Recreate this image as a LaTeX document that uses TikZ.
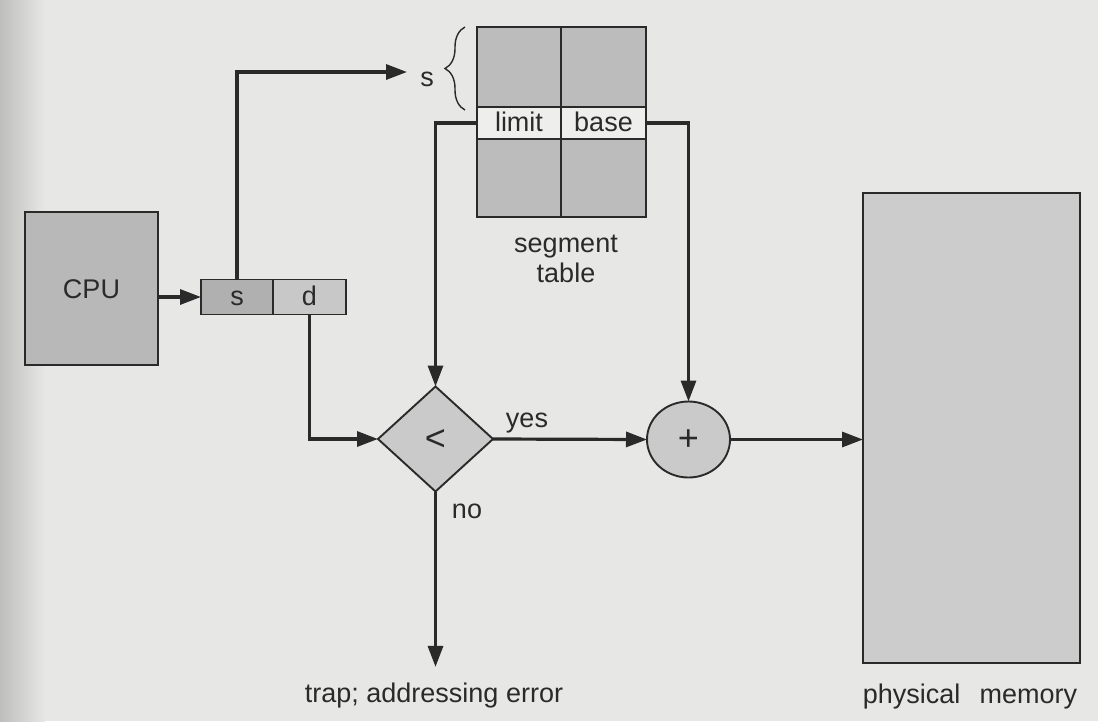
\documentclass[tikz,border=0pt]{standalone}
\usepackage{fontspec}
\setmainfont{Liberation Sans}
\usetikzlibrary{arrows.meta,shapes.geometric,decorations.pathreplacing}
\definecolor{paper}{RGB}{231,231,229}
\definecolor{paperedge}{RGB}{190,190,188}
\definecolor{ink}{RGB}{42,42,42}
\definecolor{cpufill}{RGB}{184,184,184}
\definecolor{sfill}{RGB}{176,176,176}
\definecolor{dfill}{RGB}{200,200,200}
\definecolor{tabfill}{RGB}{188,188,188}
\definecolor{rowfill}{RGB}{238,238,236}
\definecolor{opfill}{RGB}{202,202,202}
\definecolor{memfill}{RGB}{204,204,204}
\begin{document}
\begin{tikzpicture}[x=1pt,y=-1pt,
  lbl/.style={font=\fontsize{27}{30}\selectfont, text=ink},
  cell/.style={lbl, draw=ink, line width=1.9pt, inner sep=0pt, outer sep=0pt,
    text height=20pt, text depth=4pt},
  opnode/.style={cell, fill=opfill, font=\fontsize{36}{36}\selectfont,
    text height=24pt, text depth=2pt},
  conn/.style={draw=ink, line width=3.2pt, line join=miter,
    -{Triangle[length=21pt,width=15pt]}}]
\useasboundingbox (0,0) rectangle (1098,721);
% paper background with a darker binding edge
\fill[paper] (0,0) rectangle (1098,721);
\shade[left color=paperedge, right color=paper] (0,0) rectangle (45,721);

% CPU and logical address
\node[cell, fill=cpufill, minimum width=133pt, minimum height=153pt, text depth=0pt]
  (cpu) at (91.5,288.5) {CPU};
\node[cell, fill=sfill, minimum width=72pt, minimum height=35pt] (sc) at (237,297) {s};
\node[cell, fill=dfill, minimum width=73pt, minimum height=35pt] (dc) at (309.5,297) {d};

% segment table
\node[cell, fill=tabfill, minimum width=84pt, minimum height=80pt] (t1l) at (519,67) {};
\node[cell, fill=tabfill, minimum width=85pt, minimum height=80pt] (t1r) at (603.5,67) {};
\node[cell, fill=rowfill, minimum width=84pt, minimum height=32pt] (lim) at (519,123) {limit};
\node[cell, fill=rowfill, minimum width=85pt, minimum height=32pt] (bas) at (603.5,123) {base};
\node[cell, fill=tabfill, minimum width=84pt, minimum height=78pt] (t3l) at (519,178) {};
\node[cell, fill=tabfill, minimum width=85pt, minimum height=78pt] (t3r) at (603.5,178) {};
\node[lbl, align=center, anchor=base] (segt) at (566,282) {segment\\table};

% row selector brace
\draw[ink, line width=1.4pt, decorate, decoration={brace, amplitude=20pt}]
  (465,110) -- (465,27);
\node[lbl, anchor=base] (slab) at (427,86) {s};
\coordinate (stip) at (407,72);

% comparison and addition
\node[opnode, diamond, minimum width=115pt, minimum height=105pt] (cmp) at (435.5,439) {<};
\node[opnode, ellipse, minimum width=83pt, minimum height=76pt] (add) at (688.5,439.5) {+};

% physical memory
\node[cell, fill=memfill, minimum width=217pt, minimum height=470pt] (mem) at (971.5,428) {};

% labels
\node[lbl, anchor=base] (yes) at (527,427) {yes};
\node[lbl, anchor=base] (no) at (467,518) {no};
\node[lbl, anchor=base] (trap) at (434,702) {trap; addressing error};
\node[lbl, anchor=base] (phys) at (970,703) {physical\hspace{0.72em}memory};

% connectors
\draw[conn] (cpu.east |- sc.west) -- (sc.west);
\draw[conn] (sc.north) |- (stip);
\draw[conn] (dc.south) |- (cmp.west);
\draw[conn] (lim.west) -| (cmp.north);
\draw[conn] (bas.east) -| (add.north);
\draw[conn] (cmp.east) -- (add.west);
\draw[conn] (add.east) -- (add.east -| mem.west);
\draw[conn, shorten >=12pt] (cmp.south) -- (cmp.south |- trap.north);
\end{tikzpicture}
\end{document}
